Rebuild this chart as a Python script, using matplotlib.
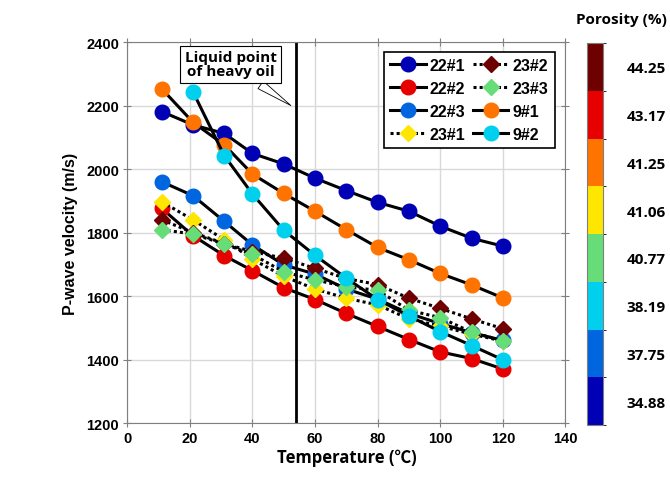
import numpy as np
import matplotlib

matplotlib.use("Agg")
import matplotlib.pyplot as plt
from matplotlib.colors import ListedColormap, BoundaryNorm
from matplotlib.colorbar import ColorbarBase

plt.rcParams["font.family"] = ["Liberation Sans", "DejaVu Sans"]

temps = [11, 21, 31, 40, 50, 60, 70, 80, 90, 100, 110, 120]
temps_9_2 = [21, 31, 40, 50, 60, 70, 80, 90, 100, 110, 120]

v22_1 = [2181, 2139, 2112, 2049, 2016, 1971, 1932, 1895, 1867, 1820, 1782, 1757]
v22_2 = [1876, 1790, 1727, 1680, 1626, 1589, 1545, 1504, 1463, 1424, 1403, 1370]
v22_3 = [1960, 1916, 1835, 1761, 1698, 1669, 1622, 1590, 1545, 1513, 1485, 1460]
v23_1 = [1897, 1840, 1777, 1716, 1662, 1622, 1593, 1572, 1528, 1505, 1480, 1458]
v23_2 = [1840, 1800, 1765, 1740, 1719, 1687, 1655, 1636, 1593, 1561, 1528, 1497]
v23_3 = [1809, 1795, 1764, 1731, 1676, 1651, 1629, 1618, 1555, 1532, 1486, 1459]
v9_1 = [2253, 2147, 2076, 1984, 1923, 1867, 1809, 1753, 1714, 1671, 1635, 1594]
v9_2 = [2243, 2042, 1921, 1807, 1728, 1656, 1589, 1537, 1488, 1444, 1399]

# porosity classes, low to high, and the colour used for each
porosity_labels = ["34.88", "37.75", "38.19", "40.77", "41.06", "41.25", "43.17", "44.25"]
porosity_colors = ["#0000b4", "#0066e0", "#00cfee", "#66dd77", "#ffe600", "#ff7300", "#e60000", "#6e0000"]

liquid_point = 54

# name, x, y, porosity class index, marker, dotted line
series = [
    ("22#1", temps, v22_1, 0, "o", False),
    ("22#2", temps, v22_2, 6, "o", False),
    ("22#3", temps, v22_3, 1, "o", False),
    ("23#1", temps, v23_1, 4, "D", True),
    ("23#2", temps, v23_2, 7, "D", True),
    ("23#3", temps, v23_3, 3, "D", True),
    ("9#1", temps, v9_1, 5, "o", False),
    ("9#2", temps_9_2, v9_2, 2, "o", False),
]

fig = plt.figure(figsize=(6.7, 4.81), dpi=100)
ax = fig.add_axes([0.19, 0.1185, 0.654, 0.792])

for name, x, y, idx, marker, dotted in series:
    ls = (0, (1, 1)) if dotted else "-"
    ms = 8.5 if marker == "D" else 10.5
    ax.plot(x, y, color="black", linestyle=ls, linewidth=2.2, marker=marker,
            markersize=ms, markerfacecolor=porosity_colors[idx],
            markeredgecolor=porosity_colors[idx], label=name)

ax.axvline(liquid_point, color="black", linewidth=2, zorder=1)

ax.annotate("Liquid point\nof heavy oil", xy=(53, 2195), xytext=(33, 2330),
            ha="center", va="center", fontsize=11, fontweight="bold",
            family=["Open Sans", "DejaVu Sans"], linespacing=1.0,
            bbox=dict(boxstyle="square,pad=0.3", fc="white", ec="black", lw=0.8),
            arrowprops=dict(arrowstyle="wedge,tail_width=0.6,shrink_factor=0.5",
                            fc="white", ec="black", lw=0.6))

ax.set_xlim(0, 140)
ax.set_ylim(1200, 2400)
ax.set_xticks(np.arange(0, 141, 20))
ax.set_yticks(np.arange(1200, 2401, 200))
ax.grid(True, color="#d9d9d9", linewidth=1)
ax.set_axisbelow(True)
for s in ax.spines.values():
    s.set_color("#7f7f7f")
ax.tick_params(direction="inout", length=6, color="#7f7f7f", top=True, right=True,
               labelsize=10.5, pad=3)
for lab in ax.get_xticklabels() + ax.get_yticklabels():
    lab.set_fontweight("bold")

ax.set_xlabel("Temperature (℃)", fontsize=12, fontweight="bold",
              family=["Open Sans", "Noto Sans CJK SC", "DejaVu Sans"], labelpad=2)
ax.set_ylabel("P-wave velocity (m/s)", fontsize=11.5, fontweight="bold", labelpad=6)

leg = ax.legend(ncol=2, loc="upper right", bbox_to_anchor=(0.975, 0.975),
                borderaxespad=0, fancybox=False, framealpha=1, edgecolor="black",
                prop=dict(size=11.5, weight="bold"), handlelength=2.2,
                columnspacing=0.5, handletextpad=0.25, labelspacing=0.5,
                borderpad=0.4)
leg.get_frame().set_linewidth(1.2)

cax = fig.add_axes([0.876, 0.1143, 0.024, 0.794])
cmap = ListedColormap(porosity_colors)
norm = BoundaryNorm(np.arange(len(porosity_colors) + 1), cmap.N)
cb = ColorbarBase(cax, cmap=cmap, norm=norm, orientation="vertical")
cb.set_ticks(np.arange(len(porosity_labels)) + 0.5)
cb.set_ticklabels(porosity_labels)
cb.outline.set_edgecolor("#7f7f7f")
cax.tick_params(length=0, pad=17, labelsize=11)
for lab in cax.get_yticklabels():
    lab.set_fontweight("bold")
    lab.set_family(["Open Sans", "DejaVu Sans"])
fig.text(0.928, 0.958, "Porosity (%)", ha="center", va="center", fontsize=11,
         fontweight="bold", family=["Open Sans", "DejaVu Sans"])

fig.savefig("out.png", dpi=100)
